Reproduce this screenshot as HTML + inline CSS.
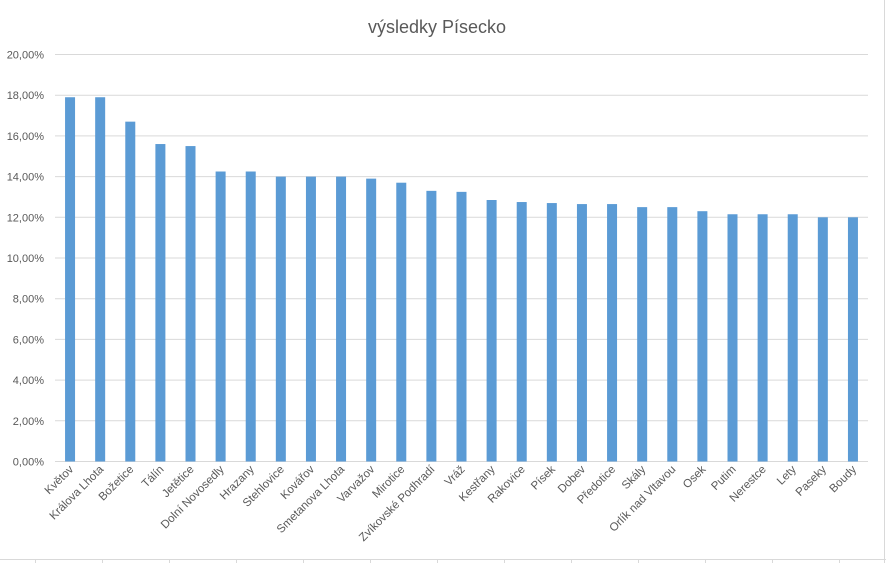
<!DOCTYPE html>
<html><head><meta charset="utf-8"><style>
html,body{margin:0;padding:0;background:#fff;}
svg{display:block;font-family:"Liberation Sans",sans-serif;}
</style></head><body>
<svg width="886" height="563" viewBox="0 0 886 563" xmlns="http://www.w3.org/2000/svg">
<rect width="886" height="563" fill="#fff"/>
<g stroke="#d9d9d9" stroke-width="1">
<line x1="0" y1="559.5" x2="886" y2="559.5"/>
<line x1="35.5" y1="559" x2="35.5" y2="563"/><line x1="102.5" y1="559" x2="102.5" y2="563"/><line x1="169.5" y1="559" x2="169.5" y2="563"/><line x1="236.5" y1="559" x2="236.5" y2="563"/><line x1="303.5" y1="559" x2="303.5" y2="563"/><line x1="370.5" y1="559" x2="370.5" y2="563"/><line x1="437.5" y1="559" x2="437.5" y2="563"/><line x1="504.5" y1="559" x2="504.5" y2="563"/><line x1="571.5" y1="559" x2="571.5" y2="563"/><line x1="638.5" y1="559" x2="638.5" y2="563"/><line x1="705.5" y1="559" x2="705.5" y2="563"/><line x1="772.5" y1="559" x2="772.5" y2="563"/><line x1="839.5" y1="559" x2="839.5" y2="563"/>
<line x1="884.5" y1="0" x2="884.5" y2="563"/>
</g>
<text x="437" y="33" font-size="18" fill="#595959" text-anchor="middle">výsledky Písecko</text>
<g id="grid" stroke="#d9d9d9" stroke-width="1"></g>
<g id="ylab" font-size="11" fill="#595959" text-anchor="end"></g>
<g id="bars" fill="#5b9bd5"></g>
<g id="xlab" font-size="11.5" fill="#595959" text-anchor="end"></g>
</svg>
<script>
var ns="http://www.w3.org/2000/svg";
function el(p,t,a,txt){var e=document.createElementNS(ns,t);for(var k in a)e.setAttribute(k,a[k]);if(txt)e.textContent=txt;document.getElementById(p).appendChild(e);}
var y0=461.5,step=40.7,L=55,R=868;
for(var i=0;i<=10;i++){var y=y0-i*step;el("grid","line",{x1:L,x2:R,y1:y,y2:y});el("ylab","text",{x:44,y:y+4},(i*2)+",00%");}
var d=[["Květov",17.9],["Králova Lhota",17.9],["Božetice",16.7],["Tálín",15.6],["Jetětice",15.5],["Dolní Novosedly",14.25],["Hrazany",14.25],["Stehlovice",14.0],["Kovářov",14.0],["Smetanova Lhota",14.0],["Varvažov",13.9],["Mirotice",13.7],["Zvíkovské Podhradí",13.3],["Vráž",13.25],["Kestřany",12.85],["Rakovice",12.75],["Písek",12.7],["Dobev",12.65],["Předotice",12.65],["Skály",12.5],["Orlík nad Vltavou",12.5],["Osek",12.3],["Putim",12.15],["Nerestce",12.15],["Lety",12.15],["Paseky",12.0],["Boudy",12.0]];
var w=(R-L)/d.length;
d.forEach(function(v,i){var c=L+w*(i+0.5);var h=v[1]/2*step;
el("bars","rect",{x:c-5,y:y0-h,width:10,height:h});
el("xlab","text",{x:c+4,y:470,transform:"rotate(-45 "+(c+4)+" 470)"},v[0]);});
</script>
</body></html>
